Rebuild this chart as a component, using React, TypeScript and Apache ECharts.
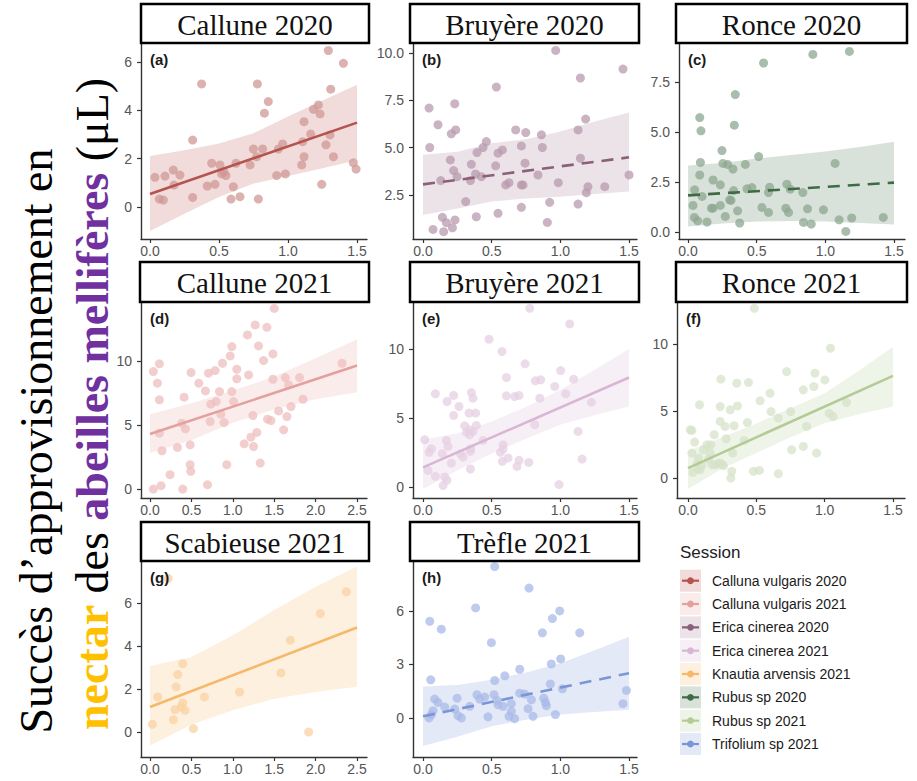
import React, { useEffect, useRef } from "react";
import * as echarts from "echarts";

// ---------- Legend / sessions ----------
const sessions = [
  "Calluna vulgaris 2020",
  "Calluna vulgaris 2021",
  "Erica cinerea 2020",
  "Erica cinerea 2021",
  "Knautia arvensis 2021",
  "Rubus sp 2020",
  "Rubus sp 2021",
  "Trifolium sp 2021",
];
const lineColors = ["#b5534f", "#e3a09e", "#8b5f78", "#d8b6d4", "#f6b86b", "#3e6b44", "#b4cb96", "#7b96d6"];
const pointColors = ["#cf9896", "#edbfbd", "#b89aad", "#e5d0e3", "#f9d1a3", "#8ca790", "#d6e3c8", "#a9bae8"];
const bandColors = ["#f1dcdb", "#faeceb", "#ece3e8", "#f7eff6", "#fdf0df", "#d9e2da", "#eff4e9", "#e4e9f7"];

// ---------- Panel titles ----------
const panelTitles = ["Callune 2020", "Bruyère 2020", "Ronce 2020", "Callune 2021", "Bruyère 2021", "Ronce 2021", "Scabieuse 2021", "Trèfle 2021"];
const panelTags = ["(a)", "(b)", "(c)", "(d)", "(e)", "(f)", "(g)", "(h)"];
const panelSession = [0, 2, 5, 1, 3, 6, 4, 7];
const panelDashed = [false, true, true, false, false, false, false, true];

// ---------- Tick labels ----------
const xTicks15 = ["0.0", "0.5", "1.0", "1.5"];
const xTicks25 = ["0.0", "0.5", "1.0", "1.5", "2.0", "2.5"];
const yTicksA = ["0", "2", "4", "6"];
const yTicksB = ["2.5", "5.0", "7.5", "10.0"];
const yTicksC = ["0.0", "2.5", "5.0", "7.5"];
const yTicksD = ["0", "5", "10"];
const yTicksE = ["0", "5", "10"];
const yTicksF = ["0", "5", "10"];
const yTicksG = ["0", "2", "4", "6", "8"];
const yTicksH = ["0", "3", "6"];

// ---------- Points ----------
const ptsA = [[0.036,1.23],[0.068,0.33],[0.097,0.29],[0.109,1.28],[0.169,1.53],[0.174,0.91],[0.217,1.32],[0.309,2.77],[0.309,0.40],[0.374,5.09],[0.415,0.87],[0.447,1.81],[0.471,0.94],[0.507,1.74],[0.519,1.37],[0.536,1.45],[0.55,1.30],[0.604,0.84],[0.623,1.81],[0.587,0.33],[0.652,0.43],[0.725,1.74],[0.749,2.40],[0.773,2.08],[0.785,0.33],[0.778,5.09],[0.816,2.40],[0.829,3.88],[0.857,4.36],[0.918,1.30],[0.930,2.40],[0.961,2.61],[0.981,1.37],[1.099,1.74],[1.106,2.70],[1.116,2.08],[1.116,3.53],[1.164,3.02],[1.184,4.04],[1.22,4.22],[1.232,3.85],[1.244,0.94],[1.275,2.57],[1.304,2.98],[1.309,4.87],[1.329,2.08],[1.292,6.47],[1.401,5.94],[1.473,1.83],[1.493,1.57]];
const ptsB = [[0.044,7.09],[0.049,5.01],[0.109,6.21],[0.129,3.26],[0.073,0.68],[0.141,1.32],[0.15,0.56],[0.17,1.04],[0.199,4.35],[0.206,5.73],[0.214,0.77],[0.223,3.79],[0.231,7.32],[0.238,5.94],[0.233,1.18],[0.248,3.47],[0.311,2.15],[0.345,3.26],[0.352,4.12],[0.383,3.61],[0.393,4.74],[0.388,1.35],[0.425,3.47],[0.437,5.01],[0.461,5.32],[0.529,4.04],[0.534,8.2],[0.546,4.71],[0.546,1.53],[0.578,4.88],[0.602,3.03],[0.626,3.15],[0.675,5.94],[0.716,5.09],[0.716,3.03],[0.728,3.03],[0.716,1.85],[0.748,5.80],[0.743,4.18],[0.837,3.56],[0.862,5.68],[0.869,5.01],[0.905,1.05],[0.922,2.11],[0.966,10.14],[0.985,3.15],[1.129,5.94],[1.129,2.02],[1.146,8.68],[1.146,4.44],[1.184,6.51],[1.189,2.62],[1.201,2.94],[1.323,2.94],[1.456,9.15],[1.5,3.56]];
const ptsC = [[0.036,1.33],[0.048,2.11],[0.046,0.73],[0.07,0.56],[0.085,2.85],[0.085,5.72],[0.094,5.06],[0.09,3.48],[0.102,1.78],[0.138,0.50],[0.17,1.19],[0.182,2.60],[0.182,1.19],[0.235,2.36],[0.235,1.33],[0.247,4.07],[0.254,3.43],[0.271,0.78],[0.288,3.38],[0.303,1.61],[0.313,1.58],[0.327,3.15],[0.337,5.34],[0.344,6.87],[0.332,2.07],[0.361,1.06],[0.376,0.45],[0.417,3.38],[0.429,2.16],[0.465,2.22],[0.514,3.77],[0.538,1.23],[0.55,8.45],[0.586,0.98],[0.586,1.97],[0.594,2.24],[0.712,1.19],[0.72,2.39],[0.732,0.98],[0.744,2.14],[0.836,1.97],[0.841,0.48],[0.87,1.16],[0.897,0.40],[0.909,8.88],[0.986,1.11],[1.071,3.43],[1.1,0.61],[1.149,0.03],[1.175,9.03],[1.192,0.70],[1.422,0.73]];
const ptsD = [[0.04,0],[0.04,9.17],[0.089,8.26],[0.113,9.77],[0.113,6.96],[0.113,4.36],[0.133,0.26],[0.145,2.99],[0.242,1.12],[0.331,3.25],[0.383,5.14],[0.395,0],[0.411,7.17],[0.427,4.70],[0.484,3.45],[0.484,1.90],[0.492,1.38],[0.496,9.09],[0.589,8.26],[0.669,7.66],[0.694,0.34],[0.706,9.04],[0.726,5.27],[0.734,6.62],[0.786,9.25],[0.798,6.83],[0.839,7.61],[0.855,5.84],[0.875,9.82],[0.895,5.19],[0.927,1.90],[0.968,10.39],[0.988,11.12],[0.988,7.61],[1.008,6.83],[1.048,9.35],[1.048,8.6],[1.137,3.53],[1.177,12.03],[1.19,8.91],[1.218,4.05],[1.242,5.74],[1.25,3.32],[1.27,12.81],[1.29,4.42],[1.31,11.17],[1.331,2.03],[1.371,10.03],[1.411,12.62],[1.419,5.45],[1.46,5.35],[1.484,10.55],[1.484,8.57],[1.5,14.1],[1.552,6.1],[1.613,4.62],[1.633,8.7],[1.653,5.66],[1.673,8.13],[1.702,6.44],[1.806,8.7],[1.847,7.01],[2.319,9.82]];
const ptsE = [[0.012,3.42],[0.036,1.2],[0.044,2.51],[0.061,2.77],[0.09,0.77],[0.09,6.75],[0.141,2.41],[0.146,0.1],[0.158,0.72],[0.17,3.37],[0.175,6.19],[0.175,0.48],[0.182,2.94],[0.206,1.73],[0.223,5.18],[0.223,6.63],[0.262,5.83],[0.272,2.41],[0.291,2.17],[0.303,4.43],[0.316,3.95],[0.335,5.35],[0.34,4.14],[0.34,3.78],[0.345,1.3],[0.345,2.58],[0.345,2.77],[0.352,6.84],[0.364,6.43],[0.364,4.02],[0.383,5.35],[0.388,4.46],[0.437,3.37],[0.481,10.7],[0.563,2.51],[0.575,9.81],[0.578,1.86],[0.583,3.06],[0.583,2.75],[0.607,7.93],[0.607,6.6],[0.619,2.1],[0.667,6.55],[0.684,1.49],[0.699,1.93],[0.699,6.63],[0.743,8.92],[0.77,1.78],[0.777,12.94],[0.813,4.51],[0.818,7.69],[0.85,6.43],[0.857,7.76],[0.959,7.28],[0.99,0.17],[1.002,8.43],[1.039,6.75],[1.068,11.81],[1.097,7.81],[1.129,4.02],[1.158,2.02],[1.226,6.14]];
const ptsF = [[0.017,3.6],[0.029,3.55],[0.029,1.86],[0.036,0.42],[0.049,2.68],[0.066,1.07],[0.071,0.67],[0.078,1.49],[0.085,5.46],[0.09,0.62],[0.102,0.92],[0.114,2.11],[0.139,2.48],[0.151,1.41],[0.163,1.86],[0.168,2.48],[0.175,0.99],[0.192,3.23],[0.199,0.99],[0.216,1.04],[0.231,1.12],[0.236,4.22],[0.236,5.33],[0.241,7.37],[0.248,1.04],[0.26,0.92],[0.272,3.85],[0.28,2.93],[0.309,5.09],[0.314,0],[0.321,0.50],[0.328,1.86],[0.338,3.9],[0.357,7.07],[0.362,5.38],[0.411,2.8],[0.435,4.14],[0.443,7.12],[0.479,0.5],[0.486,12.66],[0.523,0.57],[0.528,5.76],[0.601,6.33],[0.608,4.96],[0.661,4.47],[0.661,0.32],[0.722,7.94],[0.751,4.96],[0.759,2.11],[0.844,6.58],[0.844,2.36],[0.868,3.85],[0.921,6.82],[0.929,7.82],[0.941,1.86],[1.002,7.32],[1.033,4.84],[1.043,9.68],[1.062,4.59],[1.16,5.63]];
const ptsG = [[0.028,0.36],[0.093,1.63],[0.22,7.14],[0.282,0.57],[0.302,1.04],[0.315,2.1],[0.335,2.67],[0.395,3.18],[0.395,1.35],[0.423,1.01],[0.375,1.15],[0.524,0.16],[0.657,1.63],[1.081,1.86],[1.581,2.75],[1.694,4.27],[1.915,0],[2.056,5.51],[2.371,6.52]];
const ptsH = [[0.044,0],[0.049,5.42],[0.056,2.14],[0.061,0.19],[0.073,0.41],[0.085,1.06],[0.109,0.87],[0.133,4.98],[0.158,0.61],[0.231,0.5],[0.248,1.11],[0.255,0.13],[0.279,0],[0.34,0.65],[0.383,6.17],[0.393,1.3],[0.413,1.06],[0.449,1.17],[0.473,0.06],[0.498,4.22],[0.522,2.1],[0.517,1.3],[0.522,8.49],[0.539,0.98],[0.546,0.74],[0.583,0.65],[0.595,2.36],[0.626,0.09],[0.643,0.8],[0.643,0.37],[0.667,-0.04],[0.704,2.73],[0.704,1.39],[0.74,1.34],[0.765,0.52],[0.772,7.28],[0.789,1.02],[0.801,0.09],[0.869,4.77],[0.879,1.11],[0.891,0.87],[0.898,0.69],[0.927,1.91],[0.934,3.03],[0.942,5.57],[0.964,0.19],[0.995,6.0],[1.002,3.31],[1.015,1.63],[1.141,4.77],[1.456,0.8],[1.481,1.54]];

// ---------- Fitted lines ----------
const fitA = [[0, 0.54], [1.5, 3.49]];
const fitB = [[0, 3.06], [1.5, 4.49]];
const fitC = [[0, 1.83], [1.5, 2.47]];
const fitD = [[0, 4.29], [2.5, 9.64]];
const fitE = [[0, 1.42], [1.5, 7.93]];
const fitF = [[0, 0.74], [1.5, 7.62]];
const fitG = [[0, 1.16], [2.5, 4.86]];
const fitH = [[0, 0.09], [1.5, 2.51]];

// ---------- Confidence bands ----------
const bandX15 = [0, 0.25, 0.5, 0.75, 1.0, 1.25, 1.5];
const bandX25 = [0, 0.5, 1.0, 1.5, 2.0, 2.5];
const bandUpA = [2.11, 2.35, 2.63, 3.05, 3.74, 4.4, 5.05];
const bandLoA = [-0.99, -0.28, 0.42, 0.97, 1.28, 1.6, 1.93];
const bandUpB = [4.62, 4.79, 5.24, 5.45, 5.85, 6.38, 6.86];
const bandLoB = [1.44, 1.79, 2.15, 2.32, 2.41, 2.55, 2.68];
const bandUpC = [3.32, 3.45, 3.68, 3.85, 4.02, 4.25, 4.51];
const bandLoC = [0.28, 0.42, 0.52, 0.55, 0.53, 0.45, 0.37];
const bandUpD = [5.84, 6.7, 7.69, 8.78, 10.2, 11.69];
const bandLoD = [2.81, 3.8, 5.17, 6.22, 7.0, 7.55];
const bandUpE = [3.42, 3.9, 4.75, 5.8, 7.04, 8.5, 10.0];
const bandLoE = [-0.14, 1.2, 2.43, 3.5, 4.5, 5.2, 5.83];
const bandUpF = [1.99, 3.05, 4.07, 5.2, 6.33, 8.0, 9.8];
const bandLoF = [-0.82, 0.7, 1.86, 3.05, 4.09, 4.75, 5.33];
const bandUpG = [3.07, 3.49, 4.5, 5.67, 6.75, 7.69];
const bandLoG = [-0.62, 0.35, 1.01, 1.55, 1.86, 2.1];
const bandUpH = [1.76, 1.85, 2.14, 2.55, 3.07, 3.8, 4.55];
const bandLoH = [-1.58, -1.05, -0.46, -0.1, 0.19, 0.33, 0.46];

const panelData = [
  { pts: ptsA, fit: fitA, bx: bandX15, up: bandUpA, lo: bandLoA, xt: xTicks15, yt: yTicksA },
  { pts: ptsB, fit: fitB, bx: bandX15, up: bandUpB, lo: bandLoB, xt: xTicks15, yt: yTicksB },
  { pts: ptsC, fit: fitC, bx: bandX15, up: bandUpC, lo: bandLoC, xt: xTicks15, yt: yTicksC },
  { pts: ptsD, fit: fitD, bx: bandX25, up: bandUpD, lo: bandLoD, xt: xTicks25, yt: yTicksD },
  { pts: ptsE, fit: fitE, bx: bandX15, up: bandUpE, lo: bandLoE, xt: xTicks15, yt: yTicksE },
  { pts: ptsF, fit: fitF, bx: bandX15, up: bandUpF, lo: bandLoF, xt: xTicks15, yt: yTicksF },
  { pts: ptsG, fit: fitG, bx: bandX25, up: bandUpG, lo: bandLoG, xt: xTicks25, yt: yTicksG },
  { pts: ptsH, fit: fitH, bx: bandX15, up: bandUpH, lo: bandLoH, xt: xTicks15, yt: yTicksH },
];

// ---------- Layout (pixels / axis extents) ----------
const layout = [
  { l: 141, t: 43, w: 226, h: 196, xr: [-0.065, 1.572], yr: [-1.32, 6.78], box: [141, 4, 228, 39] },
  { l: 413, t: 43, w: 224, h: 196, xr: [-0.073, 1.558], yr: [0.175, 10.53], box: [410, 4, 229, 39] },
  { l: 679, t: 43, w: 226, h: 196, xr: [-0.066, 1.58], yr: [-0.35, 9.45], box: [676, 4, 231, 39] },
  { l: 141, t: 302, w: 226, h: 196, xr: [-0.109, 2.62], yr: [-0.7, 14.6], box: [140, 262, 229, 40] },
  { l: 413, t: 302, w: 224, h: 196, xr: [-0.073, 1.558], yr: [-0.8, 13.4], box: [410, 262, 229, 40] },
  { l: 677, t: 302, w: 228, h: 196, xr: [-0.08, 1.588], yr: [-1.49, 13.13], box: [676, 262, 231, 40] },
  { l: 141, t: 561, w: 226, h: 196, xr: [-0.109, 2.62], yr: [-1.16, 7.95], box: [141, 522, 228, 39] },
  { l: 413, t: 561, w: 224, h: 196, xr: [-0.073, 1.558], yr: [-2.19, 8.8], box: [410, 522, 229, 39] },
];

const SANS = "Liberation Sans, Arial, sans-serif";
const SERIF = "Liberation Serif, Times New Roman, serif";

function decimals(s: string) {
  const i = s.indexOf(".");
  return i < 0 ? 0 : s.length - i - 1;
}

function buildOption() {
  const grid: any[] = [];
  const xAxis: any[] = [];
  const yAxis: any[] = [];
  const series: any[] = [];
  const graphic: any[] = [];

  panelData.forEach((p, i) => {
    const L = layout[i];
    const s = panelSession[i];
    grid.push({ left: L.l, top: L.t, width: L.w, height: L.h, containLabel: false });
    const xVals = p.xt.map(Number);
    const yVals = p.yt.map(Number);
    const xDec = decimals(p.xt[0]);
    const yDec = decimals(p.yt[p.yt.length - 1]);
    const axisCommon = {
      type: "value",
      gridIndex: i,
      splitLine: { show: false },
      axisLine: { show: true, onZero: false, lineStyle: { color: "#333333", width: 1.4 } },
    };
    xAxis.push({
      ...axisCommon,
      min: L.xr[0],
      max: L.xr[1],
      axisTick: { show: true, length: 4, lineStyle: { color: "#333333", width: 1.2 }, customValues: xVals },
      axisLabel: {
        customValues: xVals,
        formatter: (v: number) => v.toFixed(xDec),
        color: "#555555",
        fontSize: 14,
        fontFamily: SANS,
        margin: 5,
      },
    });
    yAxis.push({
      ...axisCommon,
      min: L.yr[0],
      max: L.yr[1],
      axisTick: { show: true, length: 4, lineStyle: { color: "#333333", width: 1.2 }, customValues: yVals },
      axisLabel: {
        customValues: yVals,
        formatter: (v: number) => v.toFixed(yDec),
        color: "#555555",
        fontSize: 14,
        fontFamily: SANS,
        margin: 9,
      },
    });

    const bx = p.bx, up = p.up, lo = p.lo;
    series.push({
      type: "custom",
      xAxisIndex: i,
      yAxisIndex: i,
      z: 1,
      silent: true,
      data: bx.map((x, k) => [x, lo[k], up[k]]),
      encode: { x: 0, y: [1, 2] },
      renderItem: (params: any, api: any) => {
        if (params.dataIndex !== 0) return null;
        const pts: number[][] = [];
        for (let k = 0; k < bx.length; k++) pts.push(api.coord([bx[k], up[k]]));
        for (let k = bx.length - 1; k >= 0; k--) pts.push(api.coord([bx[k], lo[k]]));
        return { type: "polygon", shape: { points: pts }, style: { fill: bandColors[s] } };
      },
    });
    series.push({
      type: "scatter",
      xAxisIndex: i,
      yAxisIndex: i,
      z: 2,
      symbolSize: 9,
      data: p.pts,
      itemStyle: { color: pointColors[s], opacity: 0.75 },
    });
    series.push({
      type: "line",
      xAxisIndex: i,
      yAxisIndex: i,
      z: 3,
      data: p.fit,
      showSymbol: false,
      lineStyle: { color: lineColors[s], width: 2.6, type: panelDashed[i] ? [12, 8] : "solid" },
    });

    // title box
    const [bxp, byp, bw, bh] = L.box;
    graphic.push({
      type: "rect",
      z: 100,
      shape: { x: bxp, y: byp, width: bw, height: bh },
      style: { fill: "#ffffff", stroke: "#000000", lineWidth: 2.5 },
    });
    graphic.push({
      type: "text",
      z: 101,
      x: bxp + bw / 2,
      y: byp + bh / 2 + 1,
      style: {
        text: panelTitles[i],
        fontSize: 29,
        fontFamily: SERIF,
        fill: "#111111",
        align: "center",
        verticalAlign: "middle",
        textAlign: "center",
        textVerticalAlign: "middle",
      },
    });
    // panel tag
    graphic.push({
      type: "text",
      z: 101,
      x: L.l + 9,
      y: L.t + 16,
      style: {
        text: panelTags[i],
        fontSize: 15,
        fontWeight: "bold",
        fontFamily: SANS,
        fill: "#1a1a1a",
        align: "left",
        verticalAlign: "middle",
        textAlign: "left",
        textVerticalAlign: "middle",
      },
    });
  });

  // legend
  graphic.push({
    type: "text",
    x: 680,
    y: 552,
    style: { text: "Session", fontSize: 17, fontFamily: SANS, fill: "#222222", align: "left", verticalAlign: "middle", textAlign: "left", textVerticalAlign: "middle" },
  });
  sessions.forEach((name, k) => {
    const cy = 580.7 + 23.33 * k;
    graphic.push({ type: "rect", shape: { x: 680, y: cy - 11, width: 21, height: 22 }, style: { fill: bandColors[k] } });
    graphic.push({ type: "line", shape: { x1: 682, y1: cy, x2: 699, y2: cy }, style: { stroke: lineColors[k], lineWidth: 2.2 } });
    graphic.push({ type: "circle", shape: { cx: 690.5, cy, r: 3.4 }, style: { fill: lineColors[k] } });
    graphic.push({
      type: "text",
      x: 712,
      y: cy,
      style: { text: name, fontSize: 14, fontFamily: SANS, fill: "#1a1a1a", align: "left", verticalAlign: "middle", textAlign: "left", textVerticalAlign: "middle" },
    });
  });

  // y-axis title (two rotated lines)
  graphic.push({
    type: "text",
    x: 36,
    y: 441,
    rotation: Math.PI / 2,
    style: {
      text: "Succès d’approvisionnement en",
      fontSize: 46,
      fontFamily: SERIF,
      fill: "#000000",
      align: "center",
      verticalAlign: "middle",
      textAlign: "center",
      textVerticalAlign: "middle",
    },
  });
  graphic.push({
    type: "text",
    x: 92,
    y: 404,
    rotation: Math.PI / 2,
    style: {
      text: "{n|nectar} des {p|abeilles mellifères} (μL)",
      fontSize: 46,
      fontFamily: SERIF,
      fill: "#000000",
      align: "center",
      verticalAlign: "middle",
      textAlign: "center",
      textVerticalAlign: "middle",
      rich: {
        n: { fontSize: 46, fontFamily: SERIF, fontWeight: "bold", fill: "#ffc000", color: "#ffc000" },
        p: { fontSize: 46, fontFamily: SERIF, fontWeight: "bold", fill: "#7030a0", color: "#7030a0" },
      },
    },
  });

  return { animation: false, backgroundColor: "#ffffff", grid, xAxis, yAxis, series, graphic };
}

export default function App() {
  const ref = useRef<HTMLDivElement>(null);
  useEffect(() => {
    if (!ref.current) return;
    const chart = echarts.init(ref.current, null, { renderer: "svg" });
    chart.setOption(buildOption() as any);
    return () => chart.dispose();
  }, []);
  return <div ref={ref} style={{ position: "absolute", left: 0, top: 0, width: 917, height: 781 }} />;
}
